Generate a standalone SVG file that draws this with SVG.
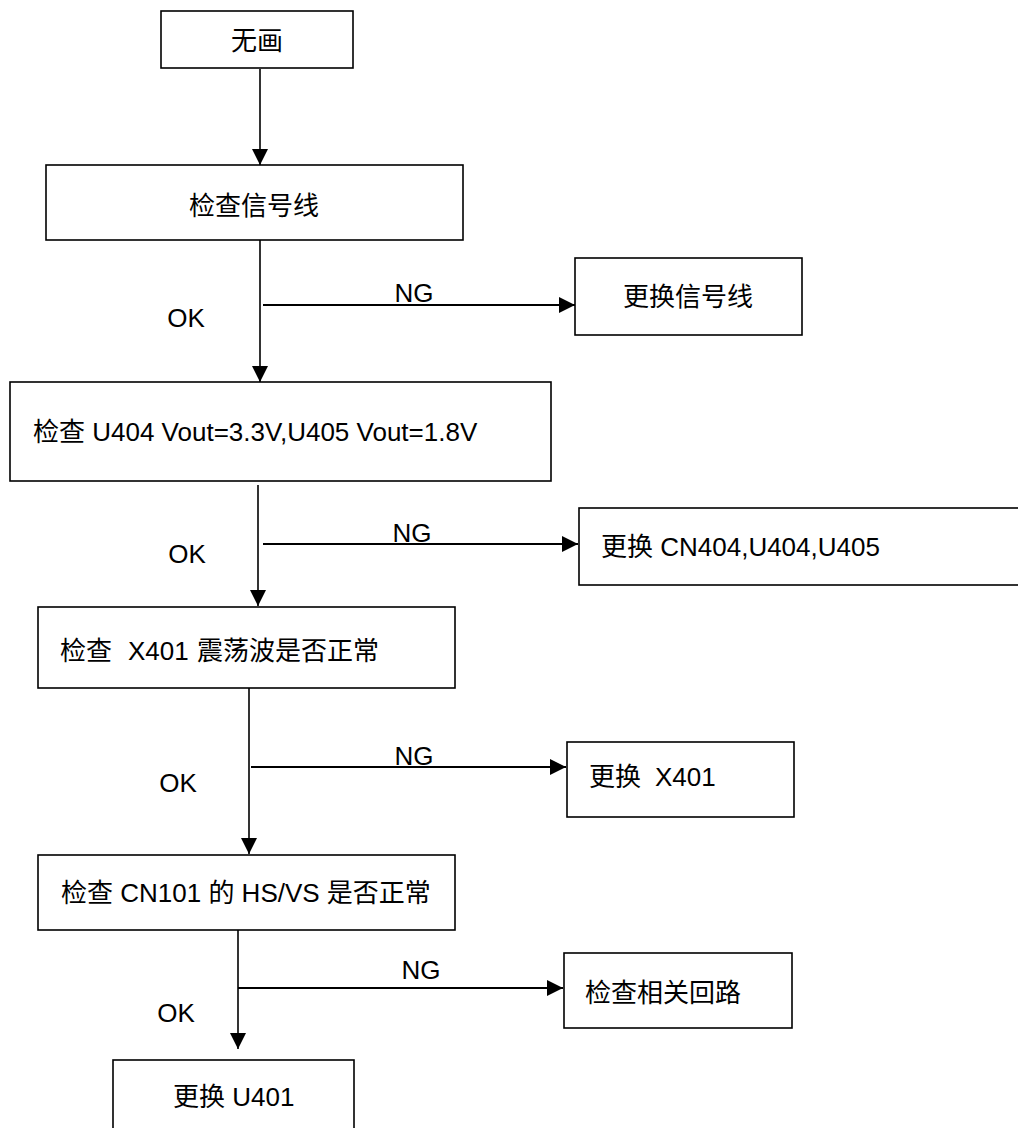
<svg xmlns="http://www.w3.org/2000/svg" width="1018" height="1128" viewBox="0 0 1018 1128">
<style>
.box{fill:#fff;stroke:#000;stroke-width:1.6}
.t{font-family:"Liberation Sans","Noto Sans CJK SC",sans-serif;font-size:26px;fill:#000}
.m{text-anchor:middle}
.c{fill:none;stroke:#000;stroke-width:1.6}
.h{stroke-width:2}
</style>
<defs>
<marker id="arr" markerUnits="userSpaceOnUse" markerWidth="17" markerHeight="18" refX="16" refY="9" orient="auto">
<path d="M0,1 L16,9 L0,17 Z" fill="#000"/>
</marker>
</defs>
<rect width="1018" height="1128" fill="#fff"/>
<g id="connectors">
<line class="c" x1="260" y1="69" x2="260" y2="165" marker-end="url(#arr)"/>
<line class="c" x1="260" y1="232" x2="260" y2="382" marker-end="url(#arr)"/>
<line class="c h" x1="263" y1="305" x2="575" y2="305" marker-end="url(#arr)"/>
<line class="c" x1="258" y1="485" x2="258" y2="606" marker-end="url(#arr)"/>
<line class="c h" x1="263" y1="544" x2="578" y2="544" marker-end="url(#arr)"/>
<line class="c" x1="249" y1="686" x2="249" y2="854" marker-end="url(#arr)"/>
<line class="c h" x1="251" y1="767" x2="566" y2="767" marker-end="url(#arr)"/>
<line class="c" x1="238" y1="925" x2="238" y2="1049" marker-end="url(#arr)"/>
<line class="c h" x1="238" y1="988" x2="563" y2="988" marker-end="url(#arr)"/>
</g>
<g id="labels">
<text class="t m" x="414" y="302">NG</text>
<text class="t m" x="186" y="327">OK</text>
<text class="t m" x="412" y="542">NG</text>
<text class="t m" x="187" y="563">OK</text>
<text class="t m" x="414" y="765">NG</text>
<text class="t m" x="178" y="792">OK</text>
<text class="t m" x="421" y="979">NG</text>
<text class="t m" x="176" y="1022">OK</text>
</g>
<g id="n1">
<rect class="box" x="161" y="11" width="192" height="57"/>
<text class="t m" x="257" y="50">无画</text>
</g>
<g id="n2">
<rect class="box" x="46" y="165" width="417" height="75"/>
<text class="t m" x="254" y="215">检查信号线</text>
</g>
<g id="n3">
<rect class="box" x="575" y="258" width="227" height="77"/>
<text class="t m" x="688" y="306">更换信号线</text>
</g>
<g id="n4">
<rect class="box" x="10" y="382" width="541" height="99"/>
<text class="t" x="33" y="441">检查 U404 Vout=3.3V,U405 Vout=1.8V</text>
</g>
<g id="n5">
<rect class="box" x="579" y="508" width="442" height="77"/>
<text class="t" x="601" y="556">更换 CN404,U404,U405</text>
</g>
<g id="n6">
<rect class="box" x="38" y="607" width="417" height="81"/>
<text class="t" y="660"><tspan x="60">检查</tspan><tspan x="128">X401</tspan><tspan x="197">震荡波是否正常</tspan></text>
</g>
<g id="n7">
<rect class="box" x="567" y="742" width="227" height="75"/>
<text class="t" y="786"><tspan x="589">更换</tspan><tspan x="655">X401</tspan></text>
</g>
<g id="n8">
<rect class="box" x="38" y="855" width="417" height="75"/>
<text class="t" x="61" y="902">检查 CN101 的 HS/VS 是否正常</text>
</g>
<g id="n9">
<rect class="box" x="564" y="953" width="228" height="75"/>
<text class="t m" x="663" y="1002">检查相关回路</text>
</g>
<g id="n10">
<rect class="box" x="113" y="1060" width="241" height="80"/>
<text class="t" x="173" y="1106">更换 U401</text>
</g>
</svg>
